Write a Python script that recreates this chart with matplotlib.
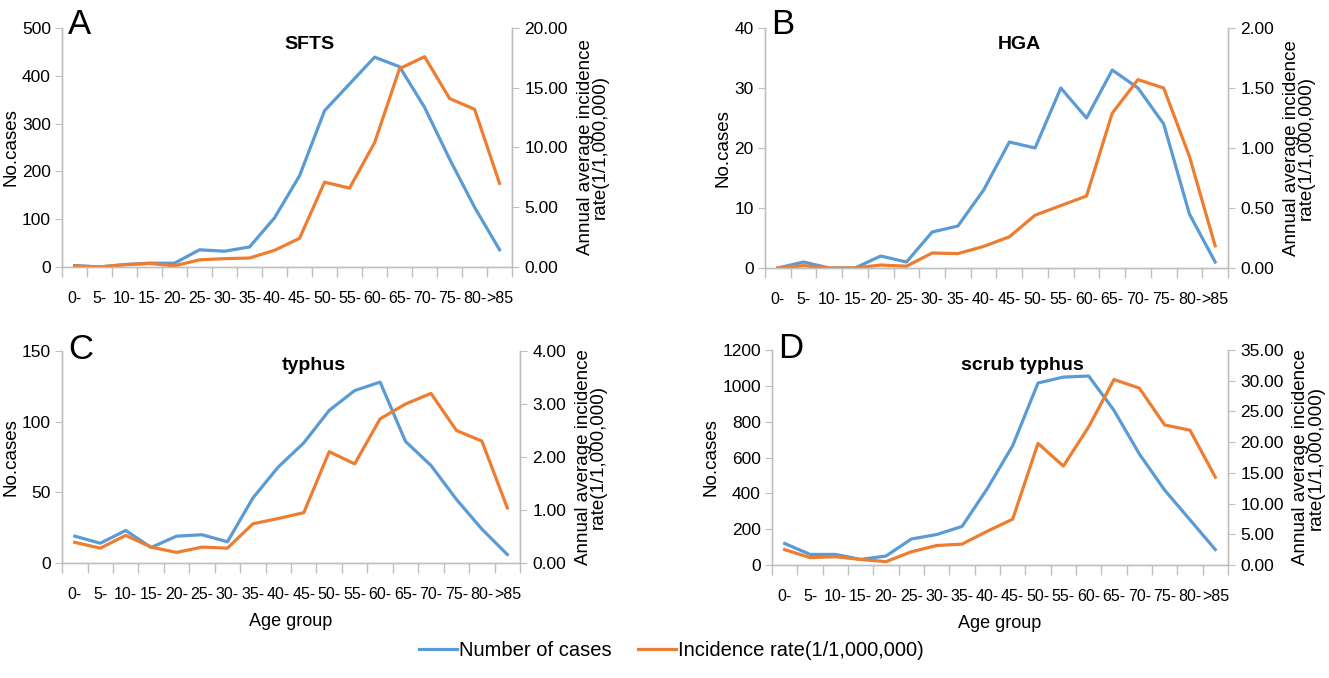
import numpy as np
import matplotlib.pyplot as plt
from matplotlib.ticker import FormatStrFormatter, FixedLocator

ages = ['0-', '5-', '10-', '15-', '20-', '25-', '30-', '35-', '40-', '45-',
        '50-', '55-', '60-', '65-', '70-', '75-', '80-', '>85']

sfts_cases = [3, 0, 5, 8, 8, 36, 33, 42, 103, 191, 327, 383, 439, 419, 334, 226, 125, 36]
sfts_rate = [0.1, 0.0, 0.2, 0.3, 0.1, 0.6, 0.7, 0.75, 1.4, 2.4, 7.1, 6.6, 10.4, 16.6, 17.6, 14.1, 13.2, 7.0]

hga_cases = [0, 1, 0, 0, 2, 1, 6, 7, 13, 21, 20, 30, 25, 33, 30, 24, 9, 1]
hga_rate = [0.0, 0.02, 0.0, 0.0, 0.025, 0.015, 0.125, 0.12, 0.18, 0.26, 0.44, 0.52, 0.6, 1.29, 1.57, 1.5, 0.93, 0.185]

typhus_cases = [19, 14, 23, 11, 19, 20, 15, 46, 68, 85, 108, 122, 128, 86, 69, 45, 24, 6]
typhus_rate = [0.39, 0.28, 0.52, 0.3, 0.2, 0.3, 0.28, 0.74, 0.84, 0.95, 2.1, 1.87, 2.72, 3.0, 3.2, 2.5, 2.3, 1.04]

scrub_cases = [120, 59, 59, 31, 50, 145, 170, 215, 427, 666, 1016, 1049, 1055, 863, 620, 418, 252, 86]
scrub_rate = [2.5, 1.2, 1.34, 0.9, 0.54, 2.15, 3.17, 3.4, 5.5, 7.46, 19.8, 16.1, 22.5, 30.2, 28.8, 22.8, 21.95, 14.3]

BLUE = '#5b9bd5'
ORANGE = '#ed7d31'
GRID = '#bfbfbf'
SANS = ['Liberation Sans', 'DejaVu Sans']

fig = plt.figure(figsize=(13.29, 6.78), dpi=100)

# letter, title, cases, rate, left max/step, right max/step, axes rect, show xlabel
panels = [
    ('A', 'SFTS', sfts_cases, sfts_rate, 500, 100, 20, 5,
     [0.0467, 0.6062, 0.3386, 0.3525], False),
    ('B', 'HGA', hga_cases, hga_rate, 40, 10, 2, 0.5,
     [0.5756, 0.6047, 0.3484, 0.3540], False),
    ('C', 'typhus', typhus_cases, typhus_rate, 150, 50, 4, 1,
     [0.0467, 0.1696, 0.3446, 0.3127], True),
    ('D', 'scrub typhus', scrub_cases, scrub_rate, 1200, 200, 35, 5,
     [0.5809, 0.1667, 0.3431, 0.3170], True),
]

x = np.arange(len(ages))
handles = []
for letter, title, cases, rate, lmax, lstep, rmax, rstep, rect, xl in panels:
    ax = fig.add_axes(rect)
    ax2 = ax.twinx()
    l1, = ax.plot(x, cases, color=BLUE, lw=2.3, label='Number of cases', zorder=3)
    l2, = ax2.plot(x, rate, color=ORANGE, lw=2.3, label='Incidence rate(1/1,000,000)')
    handles = [l1, l2]

    ax.set_xlim(-0.5, len(ages) - 0.5)
    ax.set_ylim(0, lmax)
    ax2.set_ylim(0, rmax)
    ax.set_yticks(np.arange(0, lmax + lstep / 2, lstep))
    ax2.set_yticks(np.arange(0, rmax + rstep / 2, rstep))
    ax2.yaxis.set_major_formatter(FormatStrFormatter('%.2f'))

    # category boundaries carry the tick marks, centres carry the labels
    ax.xaxis.set_major_locator(FixedLocator(np.arange(-0.5, len(ages), 1.0)))
    ax.xaxis.set_minor_locator(FixedLocator(x))
    ax.set_xticklabels([])
    ax.set_xticklabels(ages, minor=True)
    ax.tick_params(axis='x', which='major', length=7, color=GRID, width=1)
    ax.tick_params(axis='x', which='minor', length=0, pad=17, labelsize=11.5)
    ax.tick_params(axis='y', length=5, color=GRID, labelsize=12.5, pad=3)
    ax2.tick_params(axis='y', length=5, color=GRID, labelsize=12.5, pad=4)
    for lab in ax.get_xticklabels(minor=True) + ax.get_yticklabels() + ax2.get_yticklabels():
        lab.set_family(SANS)

    for a in (ax, ax2):
        a.spines['top'].set_visible(False)
        for s in ('left', 'right', 'bottom'):
            a.spines[s].set_color(GRID)
            a.spines[s].set_linewidth(1)

    ax.set_ylabel('No.cases', fontsize=13.5, family=SANS, labelpad=2)
    ax2.set_ylabel('Annual average incidence\nrate(1/1,000,000)', fontsize=13.5,
                   family=SANS, linespacing=0.85, labelpad=6)
    if xl:
        ax.set_xlabel('Age group', fontsize=13, family=SANS, labelpad=8)

    ax.text(0.014, 1.085, letter, transform=ax.transAxes, fontsize=25,
            family=SANS, va='top', ha='left')
    ax.text(0.55, 0.93, title, transform=ax.transAxes, fontsize=14,
            family=SANS, weight='bold', va='center', ha='center')

fig.legend(handles=handles, loc='lower center', bbox_to_anchor=(0.505, 0.0),
           ncol=2, frameon=False, prop={'family': SANS, 'size': 14.5},
           handlelength=1.9, handletextpad=0.1, columnspacing=1.3)

fig.savefig('out.png', dpi=100)
